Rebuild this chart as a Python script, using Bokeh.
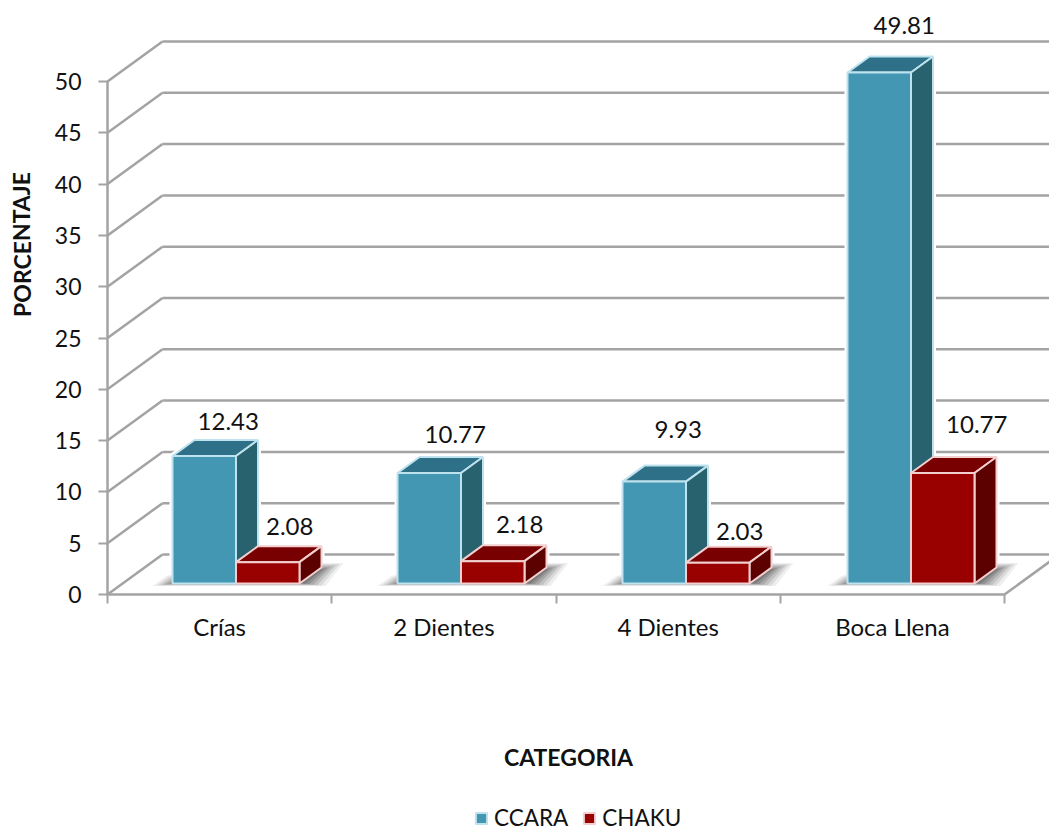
from bokeh.plotting import figure
from bokeh.models import (Range1d, FixedTicker, Label, Legend, LegendItem, ColumnDataSource)
from bokeh.core.properties import value
from bokeh.embed import file_html
from bokeh.resources import INLINE

categories = ["Crías", "2 Dientes", "4 Dientes", "Boca Llena"]
ccara = [12.43, 10.77, 9.93, 49.81]
chaku = [2.08, 2.18, 2.03, 10.77]
y_ticks = [0, 5, 10, 15, 20, 25, 30, 35, 40, 45, 50]

FONT = "Lato"
PX_X = 224.25      # pixels per category
PX_Y = 10.26       # pixels per percent
GRID = "#a3a3a3"
INK = "#111111"

px = lambda d: d / PX_X
py = lambda d: d / PX_Y

WALL_DX, WALL_DY = px(55), py(40)
BAR_DX, BAR_DY = px(22), py(16)
BAR_W = px(63.5)
BAR_START = px(65)
BAR_STEP = px(225)
LIFT = py(11)

p = figure(width=1049, height=831, output_backend="svg", toolbar_location=None,
           x_range=Range1d(-px(107), px(942)), y_range=Range1d(-py(237), py(594)),
           min_border_left=0, min_border_right=0, min_border_top=0, min_border_bottom=0,
           outline_line_color=None, background_fill_color="white", border_fill_color="white")
p.xgrid.visible = False
p.ygrid.visible = False

# walls
n = len(categories)
p.segment([0] * len(y_ticks), y_ticks, [WALL_DX] * len(y_ticks), [t + WALL_DY for t in y_ticks],
          line_color=GRID, line_width=2.5)
p.segment([WALL_DX] * len(y_ticks), [t + WALL_DY for t in y_ticks], [n + WALL_DX] * len(y_ticks),
          [t + WALL_DY for t in y_ticks], line_color=GRID, line_width=2.5)
p.segment([n], [0], [n + WALL_DX], [WALL_DY], line_color=GRID, line_width=2.5)


def outline(x, v):
    b = LIFT
    return ([x, x, x + BAR_DX, x + BAR_W + BAR_DX, x + BAR_W + BAR_DX, x + BAR_W],
            [b, b + v, b + v + BAR_DY, b + v + BAR_DY, b + BAR_DY, b])


lefts = [i * BAR_STEP + BAR_START for i in range(n)]
mids = [x + BAR_W for x in lefts]

# white halo around the bars, hiding the gridlines
for xs_, vals in ((lefts, ccara), (mids, chaku)):
    o = [outline(x, v) for x, v in zip(xs_, vals)]
    p.patches([a for a, _ in o], [b for _, b in o], fill_color="white", line_color="white", line_width=6)

# floor shadows
layers = [(12, 0.08), (8, 0.11), (4, 0.14), (0, 0.17), (-4, 0.2), (-8, 0.24)]
for grow, alpha in layers:
    sx, sy = [], []
    for x in lefts:
        x0 = x - px(8 + grow)
        x1 = x + 2 * BAR_W + px(14 + grow)
        x2 = x + 2 * BAR_W + px(32 + grow)
        sx.append([x0, x1, x2, x + px(40), x - px(grow * 0.5)])
        sy.append([LIFT - py(1 + grow * 0.12), LIFT - py(1 + grow * 0.12),
                   LIFT + py(17 + grow * 0.3), LIFT + py(17 + grow * 0.3),
                   LIFT + py(4 + grow * 0.3)])
    p.patches(sx, sy, fill_color="#333333", fill_alpha=alpha, line_color=None)


def draw_series(xs_, vals, front, top, side, edge):
    top_x = [[x, x + BAR_DX, x + BAR_W + BAR_DX, x + BAR_W] for x in xs_]
    top_y = [[LIFT + v, LIFT + v + BAR_DY, LIFT + v + BAR_DY, LIFT + v] for v in vals]
    p.patches(top_x, top_y, fill_color=top, line_color=edge, line_width=2)
    side_x = [[x + BAR_W, x + BAR_W + BAR_DX, x + BAR_W + BAR_DX, x + BAR_W] for x in xs_]
    side_y = [[LIFT + v, LIFT + v + BAR_DY, LIFT + BAR_DY, LIFT] for v in vals]
    p.patches(side_x, side_y, fill_color=side, line_color=edge, line_width=2)
    return p.quad(left=xs_, right=[x + BAR_W for x in xs_], bottom=[LIFT] * len(vals),
                  top=[LIFT + v for v in vals], fill_color=front, line_color=edge, line_width=2)


r_ccara = draw_series(lefts, ccara, "#4397B3", "#2F7089", "#28626F", "#BFE3EE")
r_chaku = draw_series(mids, chaku, "#990000", "#780000", "#5C0000", "#F3CFCF")

# value labels
label_x = [x + BAR_W / 2 for x in lefts] + [x + BAR_W / 2 for x in mids]
label_y = [LIFT + v for v in ccara + chaku]
label_dx = [24, 26, 24, 25, 22, 27, 22, 34]
label_dy = [34, 38, 52, 47, 36, 37, 31, 48]
src = ColumnDataSource(dict(x=label_x, y=label_y,
                            t=[f"{v:.2f}" for v in ccara + chaku],
                            dx=label_dx, dy=[-d for d in label_dy]))
p.text("x", "y", text="t", source=src, x_offset="dx", y_offset="dy",
       text_font=value(FONT), text_font_size="24px", text_color=INK,
       text_align="center", text_baseline="middle")

# axes sit inside the full-canvas frame
xa = p.xaxis[0]
xa.fixed_location = 0
xa.bounds = (0, n)
xa.ticker = FixedTicker(ticks=[i + 0.5 for i in range(n)], minor_ticks=list(range(n + 1)))
xa.major_label_overrides = {i + 0.5: c for i, c in enumerate(categories)}
xa.major_tick_line_color = None
xa.major_tick_out = 0
xa.minor_tick_out = 9
xa.minor_tick_in = 0
xa.minor_tick_line_color = GRID
xa.minor_tick_line_width = 2
xa.axis_line_color = GRID
xa.axis_line_width = 2.5
xa.major_label_standoff = 20
xa.major_label_text_font = FONT
xa.major_label_text_font_size = "24px"
xa.major_label_text_color = INK

ya = p.yaxis[0]
ya.fixed_location = 0
ya.bounds = (0, 50)
ya.ticker = FixedTicker(ticks=y_ticks)
ya.major_tick_out = 9
ya.major_tick_in = 0
ya.major_tick_line_color = GRID
ya.major_tick_line_width = 2
ya.minor_tick_line_color = None
ya.axis_line_color = GRID
ya.axis_line_width = 2.5
ya.major_label_standoff = 17
ya.major_label_text_font = FONT
ya.major_label_text_font_size = "23px"
ya.major_label_text_color = INK
xa.major_label_standoff = 8

# axis titles
p.add_layout(Label(x=px(461), y=py(-162), text="CATEGORIA", text_font=FONT, text_font_size="23px",
                   text_font_style="bold", text_color=INK, text_align="center",
                   text_baseline="middle"))
p.add_layout(Label(x=px(-86), y=py(350), text="PORCENTAJE", text_font=FONT, text_font_size="23px",
                   text_font_style="bold", text_color=INK, text_align="center",
                   text_baseline="middle", angle=1.5708))

legend = Legend(items=[LegendItem(label="CCARA", renderers=[r_ccara]),
                       LegendItem(label="CHAKU", renderers=[r_chaku])],
                location=(474, 0), orientation="horizontal", background_fill_alpha=0,
                border_line_color=None, padding=0, margin=0, spacing=14,
                glyph_width=14, glyph_height=14, label_standoff=6,
                label_text_font=FONT, label_text_font_size="22.5px", label_text_color=INK)
p.add_layout(legend, "center")

open("out.html", "w").write(file_html(p, INLINE))
